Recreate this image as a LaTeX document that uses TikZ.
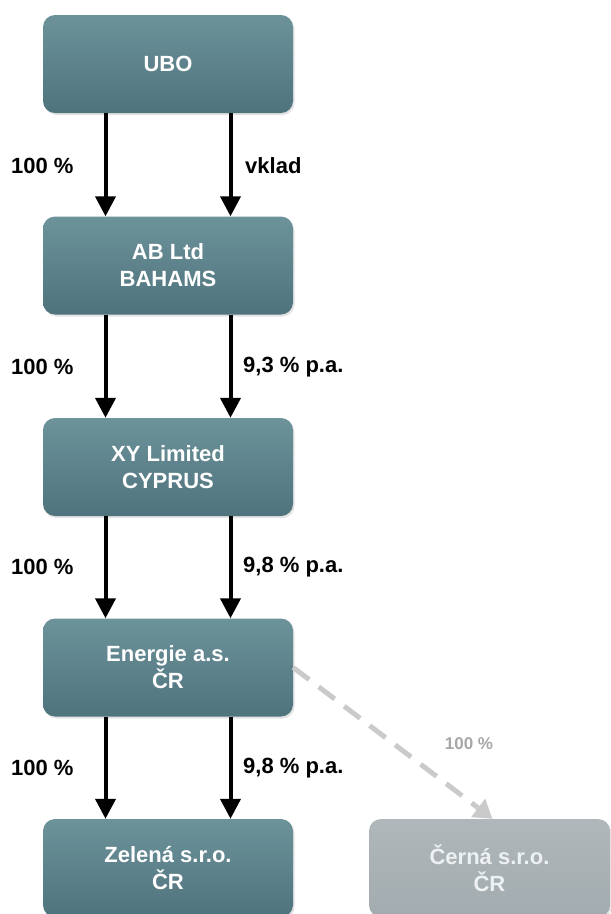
\documentclass[tikz,border=0pt]{standalone}
\usepackage{fontspec}
\setmainfont{Liberation Sans}
\usetikzlibrary{arrows.meta,shadows}

\definecolor{boxtop}{HTML}{6C929A}
\definecolor{boxbot}{HTML}{4F737D}
\definecolor{greytop}{HTML}{B0B7BA}
\definecolor{greybot}{HTML}{A2ABAF}
\definecolor{greytext}{HTML}{EEF1F2}
\definecolor{dashgrey}{HTML}{CACACA}
\definecolor{labelgrey}{HTML}{A6A6A6}

\tikzset{
  entity/.style={rectangle, rounded corners=12pt, minimum width=250pt,
    minimum height=98pt, inner sep=0pt, align=center,
    top color=boxtop, bottom color=boxbot, text=white,
    font=\fontsize{22}{27}\selectfont\bfseries,
    drop shadow={shadow xshift=1.5pt, shadow yshift=-2pt, opacity=0.22}},
  inactive/.style={entity, minimum width=241pt, top color=greytop,
    bottom color=greybot, text=greytext},
  flow/.style={line width=4pt, -{Triangle[width=20pt,length=20pt]}},
  shadowflow/.style={line width=5pt, dashgrey, dash pattern=on 20pt off 12pt,
    -{Triangle[width=22pt,length=18pt]}},
  tag/.style={anchor=west, inner sep=0pt, font=\fontsize{22}{27}\selectfont\bfseries},
  greytag/.style={inner sep=0pt, text=labelgrey, font=\fontsize{17}{20}\selectfont\bfseries}
}

\begin{document}
\begin{tikzpicture}[x=1pt, y=-1pt]
  \useasboundingbox (0,0) rectangle (611,914);

  % ownership chain
  \node[entity] (ubo) at (168,64) {UBO};
  \node[entity] (ab) at (168,265.5) {AB Ltd\\BAHAMS};
  \node[entity] (xy) at (168,467) {XY Limited\\CYPRUS};
  \node[entity] (en) at (168,667.5) {Energie a.s.\\ČR};
  \node[entity] (ze) at (168,868) {Zelená s.r.o.\\ČR};
  \node[inactive] (ce) at (489.5,868) {Černá s.r.o.\\ČR};

  % shares (left) and loans (right)
  \draw[flow] ([xshift=-62.5pt]ubo.south) -- ([xshift=-62.5pt]ab.north);
  \draw[flow] ([xshift=62.5pt]ubo.south) -- ([xshift=62.5pt]ab.north);
  \draw[flow] ([xshift=-62.5pt]ab.south) -- ([xshift=-62.5pt]xy.north);
  \draw[flow] ([xshift=62.5pt]ab.south) -- ([xshift=62.5pt]xy.north);
  \draw[flow] ([xshift=-62.5pt]xy.south) -- ([xshift=-62.5pt]en.north);
  \draw[flow] ([xshift=62.5pt]xy.south) -- ([xshift=62.5pt]en.north);
  \draw[flow] ([xshift=-62.5pt]en.south) -- ([xshift=-62.5pt]ze.north);
  \draw[flow] ([xshift=62.5pt]en.south) -- ([xshift=62.5pt]ze.north);

  \draw[shadowflow] (en.east) -- ([xshift=3pt]ce.north);

  % labels
  \node[tag] (l1) at (11,166) {100 \%};
  \node[tag] (r1) at (245,166) {vklad};
  \node[tag] (l2) at (11,367) {100 \%};
  \node[tag] (r2) at (243,367) {9,3 \% p.a.};
  \node[tag] (l3) at (11,567) {100 \%};
  \node[tag] (r3) at (243,567) {9,8 \% p.a.};
  \node[tag] (l4) at (11,768) {100 \%};
  \node[tag] (r4) at (243,768) {9,8 \% p.a.};
  \node[greytag] (g1) at (469,744) {100 \%};
\end{tikzpicture}
\end{document}
